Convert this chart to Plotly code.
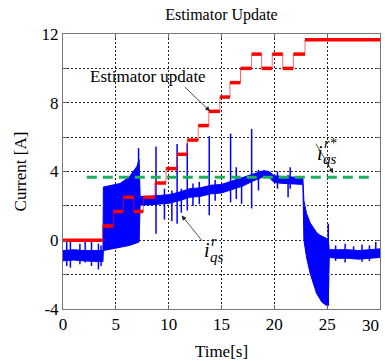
import plotly.graph_objects as go

# ---------------- data ----------------
# red staircase: estimator update (step start times [s] and levels [A])
step_t = [0, 3.75, 4.76, 5.7, 6.7, 7.6, 8.7, 9.75, 10.8, 11.76, 12.8, 13.8,
          14.85, 15.8, 16.8, 17.85, 18.8, 19.8, 20.8, 21.8, 22.9]
step_v = [0, 0.83, 1.67, 2.5, 1.67, 2.5, 3.33, 4.17, 5.0, 5.83, 6.67, 7.5,
          8.33, 9.17, 10.0, 10.83, 10.0, 10.83, 10.0, 10.83, 11.67]
t_end = 30

# green dashed reference i_qs^r*
ref_t = [2.25, 29.2]
ref_v = [3.67, 3.67]

# blue measured current i_qs^r: envelope (upper / lower) of the noisy trace
env_t = [0, 1.0, 2.0, 3.0, 3.78, 3.82, 4.6, 5.4, 6.3, 7.0, 7.2, 7.3, 8, 9, 10,
         11, 12, 13, 14, 15, 16, 17, 18, 19, 19.5, 20, 21, 22, 22.7, 22.8,
         23.05, 23.4, 23.7, 24.0, 24.3, 24.5, 24.95, 25.1, 25.2, 26, 27, 28,
         29, 30]
env_hi = [-0.6, -0.55, -0.6, -0.6, -0.6, 3.1, 3.2, 3.3, 3.7, 4.3, 4.7, 2.55,
          2.55, 2.6, 2.65, 2.8, 3.0, 3.05, 3.2, 3.25, 3.45, 3.65, 3.85, 4.05,
          4.0, 3.75, 3.7, 3.65, 3.65, 2.3, 1.55, 1.0, 0.7, 0.45, 0.3, 0.25,
          0.1, 0.05, -0.55, -0.55, -0.55, -0.6, -0.55, -0.5]
env_lo = [-1.2, -1.15, -1.2, -1.25, -1.25, -0.6, -0.5, -0.4, -0.3, -0.15,
          -0.1, 2.05, 2.05, 2.1, 2.15, 2.3, 2.5, 2.55, 2.7, 2.75, 2.95, 3.15,
          3.45, 3.7, 3.65, 3.35, 3.3, 3.25, 3.25, 0.0, -1.0, -1.95, -2.55,
          -3.1, -3.4, -3.6, -3.8, -3.8, -1.0, -1.05, -1.05, -1.1, -1.05, -1.0]

# blue spikes: time, top, bottom
spike_t = [0.35, 0.7, 1.6, 2.1, 2.7, 3.35, 3.6, 7.15, 8.8, 9.6, 10.3, 10.8,
           11.2, 11.76, 12.3, 12.9, 13.84, 14.4, 15.86, 16.4, 16.9, 17.85,
           18.5, 20.3, 21.3, 21.5, 25.1, 25.8, 26.7, 27.5, 28.3, 29.0, 29.6]
spike_hi = [-0.1, 0.0, -0.2, -0.1, 0.0, -0.2, -0.3, 5.36, 5.45, 3.0, 2.9,
            5.6, 3.0, 5.65, 3.3, 3.4, 6.05, 3.5, 6.2, 4.25, 3.6, 6.48, 4.1,
            4.0, 3.8, 4.25, 0.96, -0.3, -0.2, -0.35, -0.25, -0.3, -0.1]
spike_lo = [-1.5, -1.6, -1.4, -1.3, -1.5, -1.7, -1.5, 0.0, 0.38, 1.2, 1.1,
            0.96, 1.6, 1.73, 2.0, 2.1, 1.45, 2.3, 2.2, 2.4, 2.12, 1.85, 2.9,
            3.0, 2.5, 3.0, -3.8, -1.2, -1.3, -1.1, -1.25, -1.2, -1.0]

x_ticks = [0, 5, 10, 15, 20, 25, 30]
x_labels = ["0", "5", "10", "15", "20", "25", ""]   # "30" placed inside page below
y_ticks = [-4, 0, 4, 8, 12]
y_labels = ["-4", "0", "4", "8", "12"]

SERIF = "Liberation Serif, Times New Roman, serif"
BLUE = "#0000ff"
RED = "#ff0000"
GREEN = "#1fae5a"

fig = go.Figure()

# blue band (noise envelope)
fig.add_trace(go.Scatter(x=env_t, y=env_lo, mode="lines",
                         line=dict(color=BLUE, width=1), showlegend=False,
                         hoverinfo="skip"))
fig.add_trace(go.Scatter(x=env_t, y=env_hi, mode="lines", fill="tonexty",
                         fillcolor=BLUE, line=dict(color=BLUE, width=1),
                         showlegend=False, hoverinfo="skip"))

# blue spikes
sx, sy = [], []
for t, hi, lo in zip(spike_t, spike_hi, spike_lo):
    sx += [t, t, None]
    sy += [lo, hi, None]
fig.add_trace(go.Scatter(x=sx, y=sy, mode="lines",
                         line=dict(color=BLUE, width=1.5), showlegend=False,
                         hoverinfo="skip"))

# green dashed reference
fig.add_trace(go.Scatter(x=ref_t, y=ref_v, mode="lines",
                         line=dict(color=GREEN, width=3, dash="10px,6px"),
                         showlegend=False, hoverinfo="skip"))

# red staircase: thin connectors + thick levels
fig.add_trace(go.Scatter(x=step_t + [t_end], y=step_v + [step_v[-1]],
                         mode="lines", line=dict(color=RED, width=1, shape="hv"),
                         opacity=0.6, showlegend=False, hoverinfo="skip"))
hx, hy = [], []
ends = step_t[1:] + [t_end]
for t0, t1, v in zip(step_t, ends, step_v):
    hx += [t0, t1, None]
    hy += [v, v, None]
fig.add_trace(go.Scatter(x=hx, y=hy, mode="lines",
                         line=dict(color=RED, width=3.5), showlegend=False,
                         hoverinfo="skip"))

# annotations
ann_font = dict(family=SERIF, size=17, color="black")
annotations = [
    dict(x=x_ticks[-1], y=0, xref="x", yref="paper", text=str(x_ticks[-1]),
         showarrow=False, font=ann_font, xanchor="right", yanchor="top",
         xshift=1, yshift=-5),
    dict(x=8.0, y=9.5, text="Estimator update", showarrow=False,
         font=ann_font, xanchor="center", yanchor="middle"),
    dict(x=13.91, y=7.51, ax=11.38, ay=9.0, axref="x", ayref="y", text="",
         showarrow=True, arrowhead=2, arrowsize=1.2, arrowwidth=0.8,
         arrowcolor="#222"),
    # i_qs^r*
    dict(x=24.3, y=5.1, text="<i>i</i>", showarrow=False,
         font=dict(family=SERIF, size=20, color="black"), xanchor="center",
         yanchor="middle"),
    dict(x=24.45, y=4.75, text="<i>qs</i>", showarrow=False,
         font=dict(family=SERIF, size=15, color="black"), xanchor="left",
         yanchor="middle"),
    dict(x=24.5, y=5.65, text="<i>r*</i>", showarrow=False,
         font=dict(family=SERIF, size=14, color="black"), xanchor="left",
         yanchor="middle"),
    dict(x=25.57, y=3.9, ax=23.84, ay=5.71, axref="x", ayref="y", text="",
         showarrow=True, arrowhead=2, arrowsize=1.2, arrowwidth=0.8,
         arrowcolor="#222"),
    # i_qs^r
    dict(x=13.6, y=-0.55, text="<i>i</i>", showarrow=False,
         font=dict(family=SERIF, size=20, color="black"), xanchor="center",
         yanchor="middle"),
    dict(x=13.75, y=-0.95, text="<i>qs</i>", showarrow=False,
         font=dict(family=SERIF, size=15, color="black"), xanchor="left",
         yanchor="middle"),
    dict(x=13.8, y=-0.05, text="<i>r</i>", showarrow=False,
         font=dict(family=SERIF, size=14, color="black"), xanchor="left",
         yanchor="middle"),
    dict(x=11.23, y=1.44, ax=13.27, ay=-0.11, axref="x", ayref="y", text="",
         showarrow=True, arrowhead=2, arrowsize=1.2, arrowwidth=0.8,
         arrowcolor="#222"),
]

grid = dict(showgrid=True, gridcolor="#222", gridwidth=1, griddash="2px,2px")

fig.update_layout(
    width=385, height=361,
    margin=dict(l=63, r=5, t=34, b=52, autoexpand=False),
    paper_bgcolor="white", plot_bgcolor="white",
    font=dict(family=SERIF, size=17, color="black"),
    title=dict(text="Estimator Update", x=0.5, xref="paper", xanchor="center",
               y=1 - 14 / 361, yref="container", yanchor="middle",
               automargin=False,
               font=dict(family=SERIF, size=16, color="black")),
    annotations=annotations,
    showlegend=False,
)
fig.update_xaxes(range=[0, 30], tickvals=x_ticks, ticktext=x_labels,
                 ticks="inside", ticklen=4, tickcolor="#666", showline=True,
                 linecolor="#777", linewidth=1, mirror="ticks", zeroline=False,
                 automargin=False, ticklabeloverflow="allow",
                 title=dict(text="Time[s]", standoff=12,
                            font=dict(family=SERIF, size=17)),
                 tickfont=dict(family=SERIF, size=17), **grid)
fig.update_yaxes(range=[-4, 12], tickvals=y_ticks, ticktext=y_labels,
                 ticks="inside", ticklen=4, tickcolor="#666", showline=True,
                 linecolor="#777", linewidth=1, mirror="ticks", zeroline=False,
                 automargin=False, ticklabeloverflow="allow",
                 minor=dict(dtick=2, tick0=0, ticks="inside", ticklen=4,
                            tickcolor="#666", showgrid=True, gridcolor="#222",
                            griddash="2px,2px", gridwidth=1),
                 title=dict(text="Current [A]", standoff=10,
                            font=dict(family=SERIF, size=17)),
                 tickfont=dict(family=SERIF, size=17), **grid)

fig.write_html("out.html", config={"displayModeBar": False},
               post_script="document.body.style.margin='0';"
                           "document.body.style.overflow='hidden';")
